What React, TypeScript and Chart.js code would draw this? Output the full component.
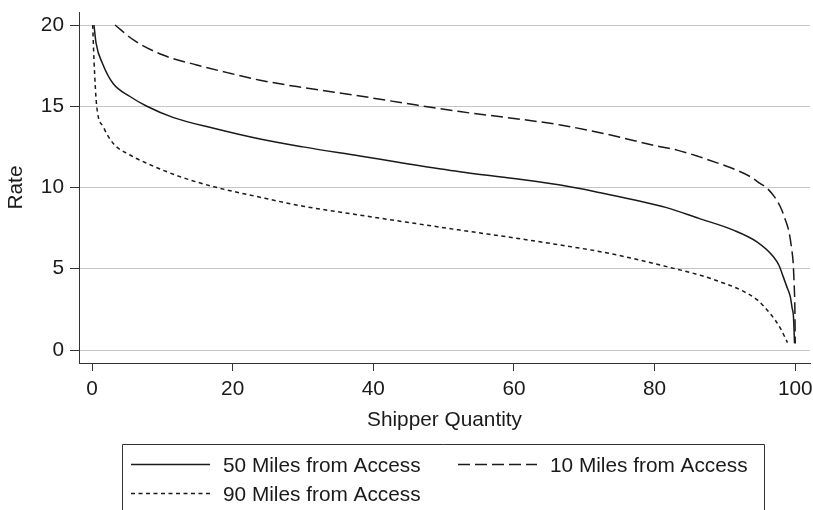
import React, { useEffect, useRef } from "react";
import { Chart, registerables } from "chart.js";

Chart.register(...registerables);

const FONT = "'Liberation Sans', Arial, Helvetica, sans-serif";
const FONT_SIZE = 20.8;
const INK = "#1a1a1a";
const AXIS = "#333333";

const xTicks = [0, 20, 40, 60, 80, 100];
const yTicks = [0, 5, 10, 15, 20];

const xTitle = "Shipper Quantity";
const yTitle = "Rate";

const seriesLabels = ["50 Miles from Access", "10 Miles from Access", "90 Miles from Access"];

// 50 miles from access (solid)
const qty50 = [0.28, 0.57, 1.52, 3.0, 5.4, 7.8, 11.6, 17.3, 23.9, 30, 38.1, 45, 52.3, 60, 66.6, 72.3, 77, 81.7, 86.3, 91.2, 94.5, 96.9, 97.7, 98.3, 98.8, 99.3, 99.55, 99.75, 99.9];
const rate50 = [20, 18.9, 17.6, 16.4, 15.6, 15.0, 14.3, 13.64, 12.98, 12.5, 11.94, 11.45, 10.97, 10.55, 10.15, 9.68, 9.25, 8.76, 8.1, 7.38, 6.67, 5.74, 5.2, 4.5, 3.9, 3.28, 2.6, 2.05, 0.41];

// 10 miles from access (dashed)
const qty10 = [3.27, 5.9, 10.1, 14.9, 19.6, 23.9, 30, 38.1, 45, 52.3, 60, 66.6, 73, 80.8, 83.2, 86.3, 89, 91.2, 93.6, 95, 96, 97, 97.9, 98.6, 99.1, 99.5, 99.7, 99.85, 99.95, 100];
const rate10 = [20, 19.08, 18.15, 17.54, 17.03, 16.6, 16.15, 15.63, 15.15, 14.67, 14.25, 13.85, 13.3, 12.51, 12.3, 11.9, 11.5, 11.15, 10.67, 10.25, 9.95, 9.45, 8.8, 8.0, 7.3, 6.2, 5.4, 4.0, 2.5, 0.4];

// 90 miles from access (dotted)
const qty90 = [0.1, 0.28, 0.67, 1.6, 3.0, 5.4, 7.8, 12.5, 17.3, 23.9, 30, 38.1, 45, 52.3, 60, 66.6, 72.3, 76, 81.7, 86.5, 89.3, 92.2, 94.6, 96.4, 97.9, 98.9];
const rate90 = [20, 17.85, 15.0, 13.74, 12.72, 12.0, 11.49, 10.67, 10.05, 9.4, 8.85, 8.3, 7.85, 7.38, 6.9, 6.46, 6.05, 5.72, 5.13, 4.6, 4.2, 3.7, 3.08, 2.26, 1.33, 0.45];

const toPoints = (xs: number[], ys: number[]) => xs.map((x, i) => ({ x, y: ys[i] }));

const boxLegend = {
  id: "boxLegend",
  afterDraw(chart: any) {
    const ctx = chart.ctx as CanvasRenderingContext2D;
    ctx.save();
    ctx.strokeStyle = AXIS;
    ctx.lineWidth = 1;
    ctx.setLineDash([]);
    ctx.beginPath();
    ctx.moveTo(122.5, 512);
    ctx.lineTo(122.5, 444.5);
    ctx.lineTo(764.5, 444.5);
    ctx.lineTo(764.5, 512);
    ctx.stroke();
    const slots = [
      { x: 131, y: 464.5 },
      { x: 458, y: 464.5 },
      { x: 131, y: 493.5 },
    ];
    chart.data.datasets.forEach((ds: any, i: number) => {
      const s = slots[i];
      ctx.setLineDash(ds.borderDash || []);
      ctx.strokeStyle = ds.borderColor;
      ctx.lineWidth = ds.borderWidth;
      ctx.beginPath();
      ctx.moveTo(s.x, s.y);
      ctx.lineTo(s.x + 79, s.y);
      ctx.stroke();
      ctx.setLineDash([]);
      ctx.fillStyle = INK;
      ctx.font = `${FONT_SIZE}px ${FONT}`;
      ctx.textBaseline = "middle";
      ctx.textAlign = "left";
      ctx.fillText(ds.label, s.x + 92, s.y + 1.5);
    });
    ctx.restore();
  },
};

export default function App() {
  const ref = useRef<HTMLCanvasElement | null>(null);

  useEffect(() => {
    if (!ref.current) return;
    const tickFont = { family: FONT, size: FONT_SIZE };
    const chart = new Chart(ref.current, {
      type: "line",
      data: {
        datasets: [
          {
            label: seriesLabels[0],
            data: toPoints(qty50, rate50),
            borderColor: INK,
            borderWidth: 1.5,
            pointRadius: 0,
            fill: false,
            cubicInterpolationMode: "monotone",
          },
          {
            label: seriesLabels[1],
            data: toPoints(qty10, rate10),
            borderColor: INK,
            borderWidth: 1.5,
            borderDash: [12, 5],
            pointRadius: 0,
            fill: false,
            cubicInterpolationMode: "monotone",
          },
          {
            label: seriesLabels[2],
            data: toPoints(qty90, rate90),
            borderColor: INK,
            borderWidth: 1.5,
            borderDash: [4, 3.5],
            pointRadius: 0,
            fill: false,
            cubicInterpolationMode: "monotone",
          },
        ],
      } as any,
      options: {
        animation: false,
        responsive: false,
        maintainAspectRatio: false,
        layout: { padding: { left: 0, top: 12, right: 3, bottom: 0 } },
        plugins: { legend: { display: false }, tooltip: { enabled: false } },
        scales: {
          x: {
            type: "linear",
            min: -1.85,
            max: 102.1,
            afterBuildTicks: (s: any) => {
              s.ticks = xTicks.map((v) => ({ value: v }));
            },
            afterFit: (s: any) => {
              s.height = 147;
              s.paddingLeft = 0;
              s.paddingRight = 0;
            },
            grid: { drawOnChartArea: false, drawTicks: true, tickLength: 8, tickColor: AXIS, tickWidth: 1 },
            border: { display: true, color: AXIS, width: 1 },
            ticks: { color: INK, font: tickFont, padding: 6, maxRotation: 0, autoSkip: false },
            title: { display: true, text: xTitle, color: INK, font: tickFont, padding: { top: 0, bottom: 77 } },
          },
          y: {
            type: "linear",
            min: -0.8,
            max: 20.8,
            afterBuildTicks: (s: any) => {
              s.ticks = yTicks.map((v) => ({ value: v }));
            },
            afterFit: (s: any) => {
              s.width = 79;
              s.paddingTop = 0;
              s.paddingBottom = 0;
            },
            grid: { color: "#c6c6c6", lineWidth: 1, drawTicks: true, tickLength: 9, tickColor: AXIS, tickWidth: 1 },
            border: { display: true, color: AXIS, width: 1 },
            ticks: { color: INK, font: tickFont, padding: 6, autoSkip: false },
            title: { display: true, text: yTitle, color: INK, font: tickFont, padding: { top: 4, bottom: 0 } },
          },
        },
      } as any,
      plugins: [boxLegend],
    });
    return () => chart.destroy();
  }, []);

  return (
    <div style={{ position: "fixed", left: 0, top: 0, width: 813, height: 510, overflow: "hidden", background: "#fff" }}>
      <canvas ref={ref} width={813} height={510} style={{ width: 813, height: 510, display: "block" }} />
    </div>
  );
}
